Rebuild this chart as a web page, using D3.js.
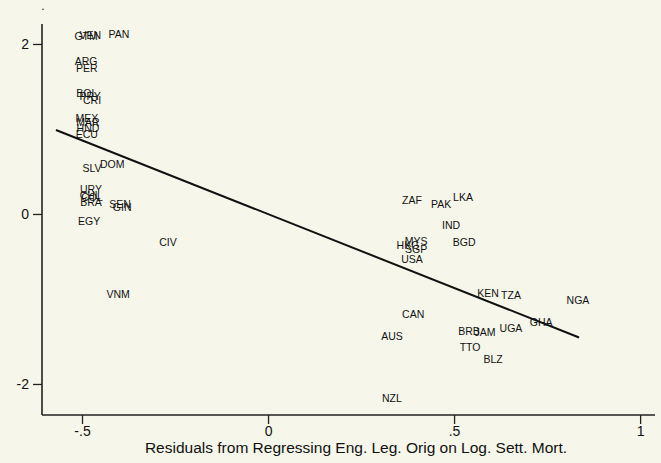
<!DOCTYPE html>
<html>
<head>
<meta charset="utf-8">
<script src="https://cdn.jsdelivr.net/npm/d3@7"></script>
<style>
  html, body { margin: 0; padding: 0; background: #f6f6ea; }
  svg { display: block; }
  text { font-family: "Liberation Sans", Arial, sans-serif; }
</style>
</head>
<body>
<svg id="chart" width="661" height="463"></svg>
<script>
// Country codes and their coordinates (x: residual of legal origin, y: outcome residual)
const countries = ["GTM","VEN","PAN","ARG","PER","BOL","PRY","CRI","MEX","MAR","HND","ECU",
  "SLV","DOM","URY","CHL","COL","BRA","SEN","GIN","EGY","CIV","VNM",
  "ZAF","PAK","LKA","IND","MYS","HKG","SGP","USA","BGD",
  "KEN","TZA","NGA","CAN","AUS","BRB","JAM","UGA","GHA","TTO","BLZ","NZL"];
const xValues = [-0.489,-0.478,-0.401,-0.489,-0.487,-0.487,-0.478,-0.473,-0.487,-0.484,-0.484,-0.487,
  -0.473,-0.419,-0.476,-0.478,-0.473,-0.476,-0.398,-0.392,-0.481,-0.269,-0.403,
  0.387,0.465,0.524,0.492,0.398,0.376,0.398,0.387,0.527,
  0.591,0.653,0.833,0.390,0.333,0.540,0.583,0.653,0.734,0.543,0.605,0.333];
const yValues = [2.094,2.106,2.118,1.800,1.718,1.424,1.388,1.341,1.129,1.082,1.012,0.941,
  0.541,0.588,0.294,0.224,0.200,0.141,0.118,0.082,-0.082,-0.329,-0.941,
  0.165,0.118,0.200,-0.129,-0.318,-0.365,-0.412,-0.529,-0.329,
  -0.929,-0.953,-1.012,-1.176,-1.435,-1.376,-1.388,-1.341,-1.271,-1.565,-1.706,-2.165];

// Fitted regression line endpoints
const fitX = [-0.570, 0.836];
const fitY = [0.988, -1.453];

// Axis ticks
const xTicks = [-0.5, 0, 0.5, 1];
const xTickLabels = ["-.5", "0", ".5", "1"];
const yTicks = [-2, 0, 2];
const yTickLabels = ["-2", "0", "2"];
const xTitle = "Residuals from Regressing Eng. Leg. Orig on Log. Sett. Mort.";

const svg = d3.select("#chart");
const plotLeft = 42, plotRight = 655, plotTop = 24, plotBottom = 415;

const x = d3.scaleLinear().domain([-0.6075, 1.040]).range([plotLeft, plotRight]);
const y = d3.scaleLinear().domain([-2.365, 2.235]).range([plotBottom, plotTop]);

// Axes
const xAxis = d3.axisBottom(x).tickValues(xTicks)
  .tickFormat((d, i) => xTickLabels[i]).tickSize(9).tickPadding(2);
const yAxis = d3.axisLeft(y).tickValues(yTicks)
  .tickFormat((d, i) => yTickLabels[i]).tickSize(9).tickPadding(4);

const gx = svg.append("g").attr("transform", `translate(0,${plotBottom})`).call(xAxis);
const gy = svg.append("g").attr("transform", `translate(${plotLeft},0)`).call(yAxis);

[gx, gy].forEach(g => {
  g.select(".domain").attr("stroke", "#222").attr("stroke-width", 1.6);
  g.selectAll(".tick line").attr("stroke", "#222").attr("stroke-width", 1.3);
  g.selectAll(".tick text").attr("fill", "#111").style("font-size", "14px")
    .style("font-family", "'Liberation Sans', Arial, sans-serif");
});
gx.select(".domain").attr("d", `M${plotLeft},0H${plotRight}`);
gy.select(".domain").attr("d", `M0,${plotBottom}V${plotTop}`);

// Stray y-axis title mark
svg.append("text").attr("x", 43).attr("y", 10).attr("text-anchor", "middle")
  .style("font-size", "12px").attr("fill", "#222").text(".");

// X axis title
svg.append("text")
  .attr("x", 356).attr("y", 453)
  .attr("text-anchor", "middle")
  .style("font-size", "15.5px").attr("fill", "#111")
  .text(xTitle);

// Regression line
svg.append("line")
  .attr("x1", x(fitX[0])).attr("y1", y(fitY[0]))
  .attr("x2", x(fitX[1])).attr("y2", y(fitY[1]))
  .attr("stroke", "#111").attr("stroke-width", 2);

// Country labels
svg.append("g").selectAll("text")
  .data(countries.map((c, i) => ({ c, xv: xValues[i], yv: yValues[i] })))
  .join("text")
  .attr("x", d => x(d.xv))
  .attr("y", d => y(d.yv))
  .attr("text-anchor", "middle")
  .attr("dy", "0.35em")
  .style("font-size", "10.5px")
  .attr("fill", "#111")
  .text(d => d.c);
</script>
</body>
</html>
